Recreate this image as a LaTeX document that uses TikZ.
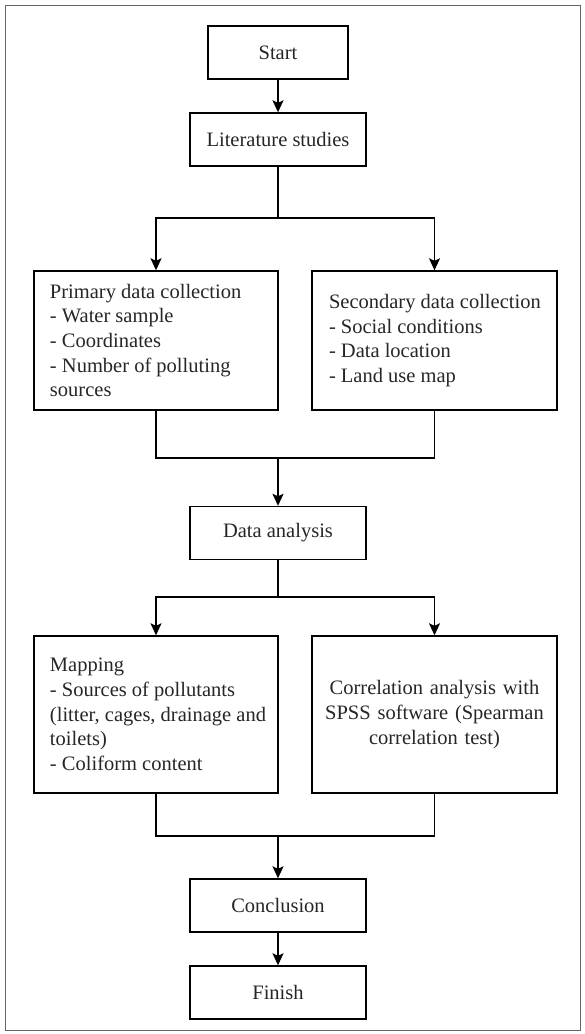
\documentclass[tikz,border=0pt]{standalone}
\usepackage{fontspec}
\setmainfont{Liberation Serif}
\usetikzlibrary{arrows.meta}
\newcommand{\boxlines}[3]{\parbox{#1pt}{\raggedright\leftskip=#2pt\relax\hyphenpenalty=10000 #3}}
\begin{document}
\begin{tikzpicture}[x=1pt,y=-1pt,
  box/.style={draw, line width=1.4pt, rectangle, inner sep=0pt,
    font=\fontsize{20.5}{24.7}\selectfont, text=black!85},
  smallbox/.style={box, minimum width=140, minimum height=53},
  midbox/.style={box, minimum width=176, minimum height=53},
  listbox/.style={box},
  centbox/.style={box, align=center, text width=232, inner xsep=6.5},
  line/.style={line width=1.4pt},
  conn/.style={line, -{Stealth[length=12pt,width=11pt,inset=2.5pt]}},
  frame/.style={draw=black!60, line width=1pt}]
\useasboundingbox (0,0) rectangle (585,1034);
\draw[frame] (5,5) rectangle (580,1030);

\node[smallbox] (start) at (278,52.5) {Start};
\node[midbox] (lit) at (278,139.5) {Literature studies};
\node[listbox, minimum height=139] (prim) at (156,340.5)
  {\boxlines{244}{16}{Primary data collection\\- Water sample\\- Coordinates\\- Number of polluting\\sources}};
\node[listbox, minimum height=139] (sec) at (434.5,340.5)
  {\boxlines{245}{17}{Secondary data collection\\- Social conditions\\- Data location\\- Land use map}};
\node[midbox] (data) at (278,533) {Data analysis};
\node[listbox, minimum height=157] (map) at (156,714.5)
  {\boxlines{244}{16}{Mapping\\- Sources of pollutants\\(litter, cages, drainage and\\toilets)\\- Coliform content}};
\node[centbox, minimum height=157] (corr) at (434.5,714.5)
  {Correlation analysis with\\SPSS software (Spearman\\correlation test)};
\node[midbox] (concl) at (278,905.5) {Conclusion};
\node[midbox] (finish) at (278,992.5) {Finish};

\coordinate (b1) at (278,218);
\coordinate (j1) at (278,458);
\coordinate (b2) at (278,597);
\coordinate (j2) at (278,836);

\draw[conn] (start) -- (lit);
\draw[line] (lit.south) -- (b1);
\draw[conn] (b1) -| (prim.north);
\draw[conn] (b1) -| (sec.north);
\draw[line] (prim.south) |- (j1) -| (sec.south);
\draw[conn] (j1) -- (data.north);
\draw[line] (data.south) -- (b2);
\draw[conn] (b2) -| (map.north);
\draw[conn] (b2) -| (corr.north);
\draw[line] (map.south) |- (j2) -| (corr.south);
\draw[conn] (j2) -- (concl.north);
\draw[conn] (concl) -- (finish);
\end{tikzpicture}
\end{document}
